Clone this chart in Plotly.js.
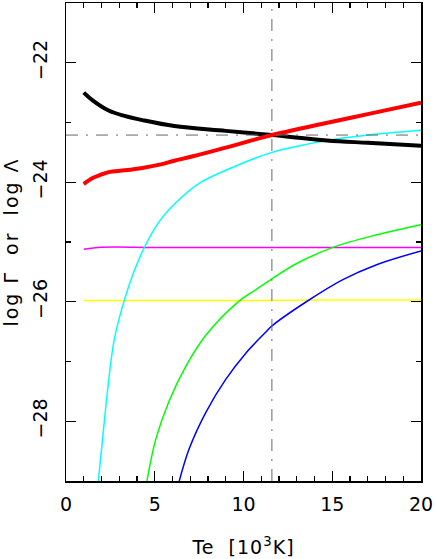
<!DOCTYPE html>
<html>
<head>
<meta charset="utf-8">
<script src="https://cdn.plot.ly/plotly-3.0.1.min.js"></script>
<style>
  html, body { margin: 0; padding: 0; background: #fff; }
  #plot { width: 436px; height: 559px; }
  #plot .ytitle { letter-spacing: 2px; }
  #plot .xtitle { letter-spacing: 1px; }
</style>
</head>
<body>
<div id="plot"></div>
<script>
// Heating (Gamma) and cooling (Lambda) rates vs electron temperature, Te in 10^3 K
let teBlack = [1, 1.5, 2.4, 3.3, 4.3, 6.1, 9, 11.6, 14.7, 17, 20];
let logBlack = [-22.50, -22.63, -22.80, -22.89, -22.96, -23.06, -23.14, -23.21, -23.30, -23.34, -23.39];

let teRed = [1, 1.5, 2, 2.4, 3.3, 4.3, 5.2, 6.1, 7.1, 9, 11.6, 14, 17, 20];
let logRed = [-24.03, -23.93, -23.87, -23.83, -23.80, -23.76, -23.71, -23.64, -23.57, -23.42, -23.21, -23.05, -22.86, -22.67];

let teCyan = [1.82, 2.06, 2.35, 2.72, 3.3, 3.8, 4.4, 5.25, 6.2, 7.5, 9, 11.6, 14.7, 17, 20];
let logCyan = [-29.0, -28.30, -27.46, -26.63, -25.96, -25.52, -25.10, -24.66, -24.34, -24.02, -23.80, -23.50, -23.30, -23.21, -23.13];

let teMagenta = [1, 1.8, 5, 10, 15, 20];
let logMagenta = [-25.12, -25.09, -25.09, -25.09, -25.09, -25.09];

let teYellow = [1, 5, 10, 15, 20];
let logYellow = [-25.98, -25.98, -25.98, -25.97, -25.97];

let teGreen = [4.56, 5.06, 5.81, 6.75, 7.88, 9.75, 10.69, 11.58, 13, 15.04, 17.5, 20];
let logGreen = [-29.0, -28.30, -27.66, -27.08, -26.56, -25.99, -25.80, -25.62, -25.36, -25.09, -24.88, -24.71];

let teBlue = [6.38, 6.94, 7.88, 9.0, 10.13, 11.25, 11.58, 13.54, 15.6, 17.5, 20];
let logBlue = [-29.0, -28.46, -27.85, -27.30, -26.86, -26.51, -26.41, -26.00, -25.63, -25.38, -25.15];

// equilibrium point marked by the dash-dot lines
let eqTe = 11.6;
let eqLog = -23.21;

function curve(x, y, color, width) {
  return { x: x, y: y, type: "scatter", mode: "lines",
           line: { color: color, width: width, shape: "spline", smoothing: 1 },
           hoverinfo: "skip" };
}

let data = [
  curve(teYellow, logYellow, "#ffff00", 1.5),
  curve(teMagenta, logMagenta, "#ff00ff", 1.5),
  curve(teGreen, logGreen, "#00ff00", 1.5),
  curve(teBlue, logBlue, "#0000ff", 1.5),
  curve(teCyan, logCyan, "#00ffff", 1.5),
  curve(teBlack, logBlack, "#000000", 4),
  curve(teRed, logRed, "#ff0000", 4)
];

let axisCommon = {
  showgrid: false,
  zeroline: false,
  showline: true,
  linecolor: "#000",
  linewidth: 1.5,
  mirror: "ticks",
  ticks: "inside",
  ticklen: 10,
  tickwidth: 1.2,
  tickcolor: "#000",
  tickfont: { size: 19, color: "#000" },
  minor: { dtick: 1, ticks: "inside", ticklen: 5, tickwidth: 1.2, tickcolor: "#000" }
};

let layout = {
  width: 436,
  height: 559,
  margin: { l: 66, r: 15, t: 3, b: 78 },
  paper_bgcolor: "#fff",
  plot_bgcolor: "#fff",
  showlegend: false,
  font: { family: "DejaVu Sans, Liberation Sans, sans-serif", size: 19, color: "#000" },
  xaxis: Object.assign({}, axisCommon, {
    range: [0, 20],
    dtick: 5,
    tick0: 0,
    ticklabelstandoff: 6,
    title: { text: "Te\u00a0\u00a0[10<sup>3</sup>K]", font: { size: 19 }, standoff: 26 }
  }),
  yaxis: Object.assign({}, axisCommon, {
    range: [-29, -21],
    dtick: 2,
    tick0: -22,
    tickangle: -90,
    ticklabelstandoff: 10,
    title: { text: "log\u00a0Γ\u00a0\u00a0or\u00a0\u00a0log\u00a0Λ", font: { size: 19 }, standoff: 10 }
  }),
  shapes: [
    { type: "line", xref: "x", yref: "paper", x0: eqTe, x1: eqTe, y0: 0, y1: 1,
      line: { color: "#666", width: 1, dash: "12px,8px,2px,8px" } },
    { type: "line", xref: "paper", yref: "y", x0: 0, x1: 1, y0: eqLog, y1: eqLog,
      line: { color: "#666", width: 1, dash: "12px,8px,2px,8px" } }
  ]
};

Plotly.newPlot("plot", data, layout, { staticPlot: true });
</script>
</body>
</html>
